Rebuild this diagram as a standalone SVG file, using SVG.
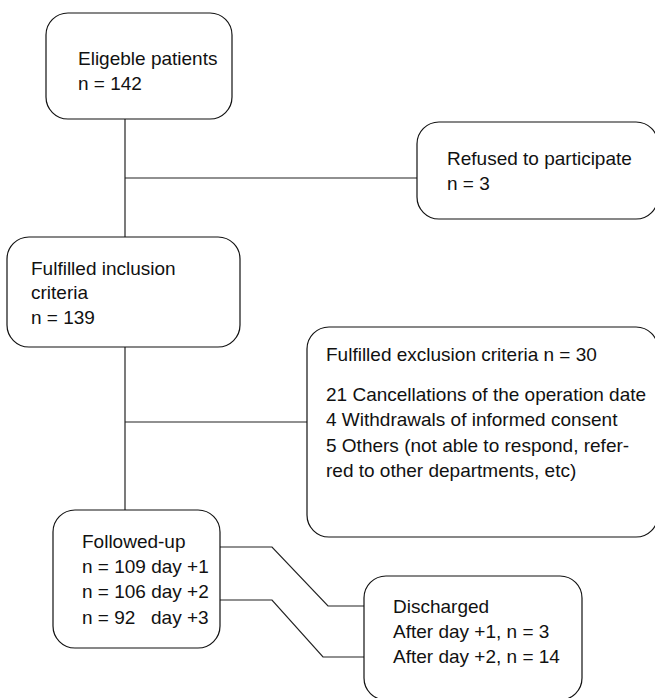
<svg xmlns="http://www.w3.org/2000/svg" width="655" height="698" viewBox="0 0 655 698">
<style>
.box{fill:#fff;stroke:#111;stroke-width:1.2}
.t{font-family:"Liberation Sans",Arial,sans-serif;font-size:19px;fill:#111}
.c{fill:none;stroke:#222;stroke-width:1.2}
</style>
<rect width="655" height="698" fill="#fff"/>
<g id="connectors">
<line class="c" x1="125" y1="119" x2="125" y2="237"/>
<line class="c" x1="125" y1="178" x2="417" y2="178"/>
<line class="c" x1="125" y1="347" x2="125" y2="510"/>
<line class="c" x1="125" y1="422" x2="307" y2="422"/>
<polyline class="c" points="220,547 272,547 328,606 364,606"/>
<polyline class="c" points="220,600 272,600 323,657 364,657"/>
</g>
<g id="eligible">
<rect class="box" x="46" y="13" width="186" height="106" rx="22"/>
<text class="t" x="78" y="65">Eligeble patients</text>
<text class="t" x="78" y="90">n = 142</text>
</g>
<g id="refused">
<rect class="box" x="417" y="122" width="241" height="97" rx="22"/>
<text class="t" x="447" y="165">Refused to participate</text>
<text class="t" x="447" y="190">n = 3</text>
</g>
<g id="inclusion">
<rect class="box" x="7" y="237" width="233" height="110" rx="22"/>
<text class="t" x="31" y="275">Fulfilled inclusion</text>
<text class="t" x="31" y="299">criteria</text>
<text class="t" x="31" y="324">n = 139</text>
</g>
<g id="exclusion">
<rect class="box" x="307" y="327" width="351" height="210" rx="22"/>
<text class="t" x="326" y="361">Fulfilled exclusion criteria n = 30</text>
<text class="t" x="326" y="401">21 Cancellations of the operation date</text>
<text class="t" x="326" y="426">4 Withdrawals of informed consent</text>
<text class="t" x="326" y="452">5 Others (not able to respond, refer-</text>
<text class="t" x="326" y="477">red to other departments, etc)</text>
</g>
<g id="followed">
<rect class="box" x="53" y="510" width="167" height="138" rx="22"/>
<text class="t" x="82" y="548">Followed-up</text>
<text class="t" x="82" y="573">n = 109 day +1</text>
<text class="t" x="82" y="598">n = 106 day +2</text>
<text class="t" y="624"><tspan x="82">n = 92</tspan><tspan x="151">day +3</tspan></text>
</g>
<g id="discharged">
<rect class="box" x="364" y="576" width="218" height="124" rx="22"/>
<text class="t" x="393" y="613">Discharged</text>
<text class="t" x="393" y="638">After day +1, n = 3</text>
<text class="t" x="393" y="663">After day +2, n = 14</text>
</g>
</svg>
